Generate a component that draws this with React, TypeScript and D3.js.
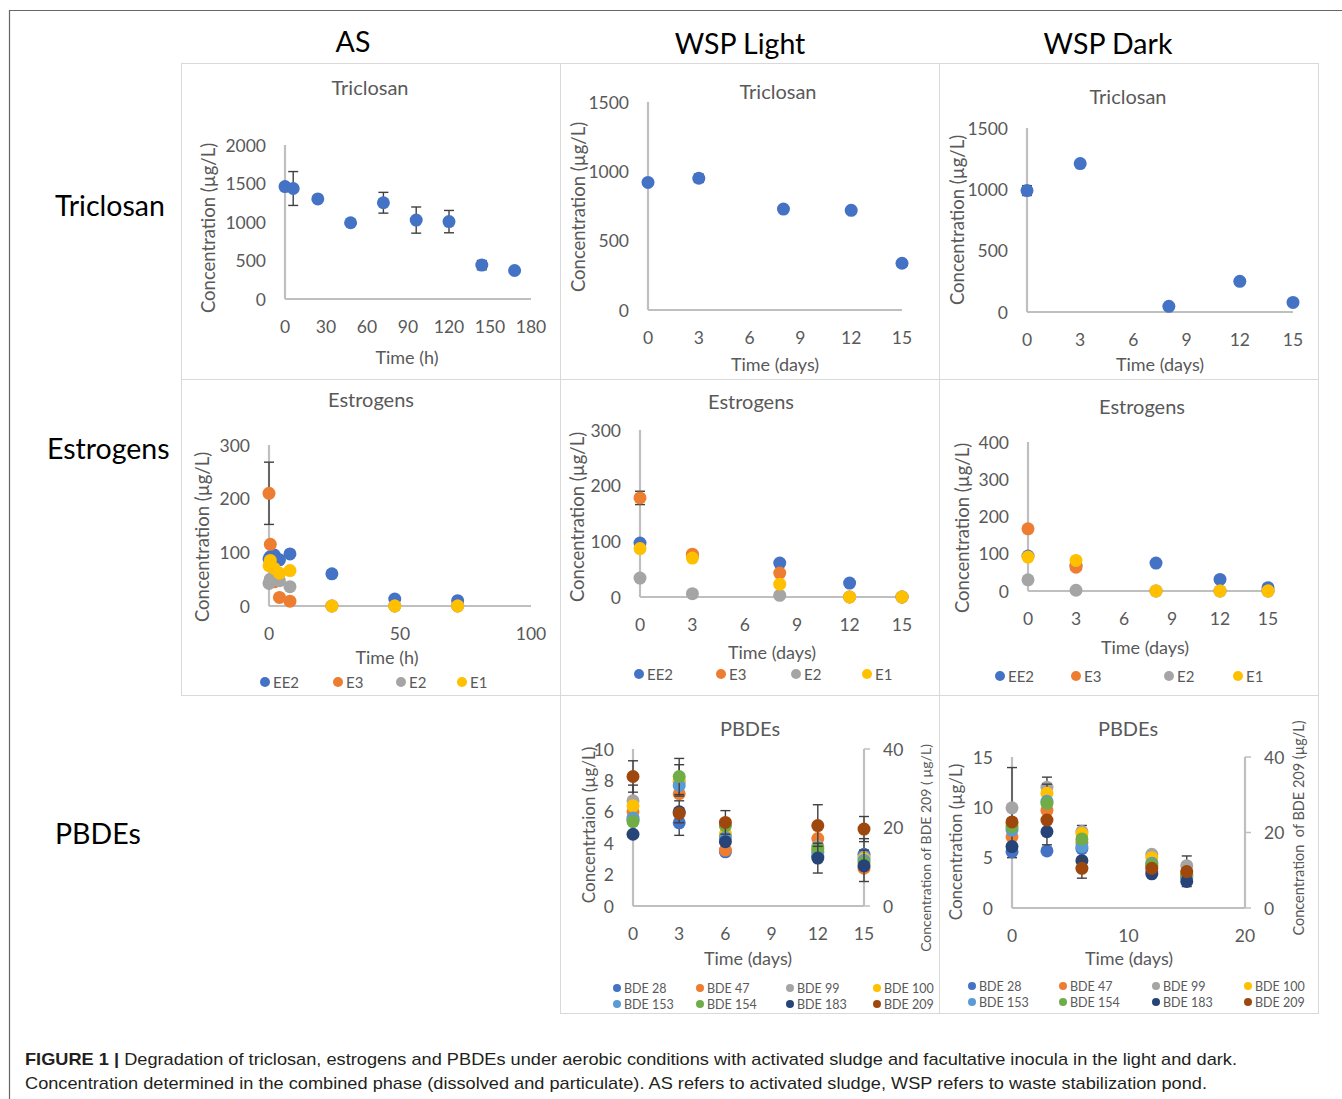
import React, { useRef, useEffect } from 'react';
import * as d3 from 'd3';

// ---------- data ----------
// Triclosan
const asTriclosanHours = [0, 6, 24, 48, 72, 96, 120, 144, 168];
const asTriclosanConc = [1460, 1435, 1300, 990, 1250, 1025, 1005, 440, 370];
const asTriclosanErr = [0, 220, 0, 0, 135, 170, 145, 60, 0];

const wspDays = [0, 3, 8, 12, 15];
const lightTriclosanConc = [920, 950, 728, 719, 337];
const lightTriclosanErr = [0, 30, 0, 0, 25];
const darkTriclosanConc = [990, 1210, 46, 250, 78];
const darkTriclosanErr = [40, 0, 0, 0, 0];

// Estrogens
const estrogenNames = ['EE2', 'E3', 'E2', 'E1'];
const estrogenColors = ['#4472C4', '#ED7D31', '#A5A5A5', '#FFC000'];

const asEstrogenHours = [0, 0.5, 2, 4, 8, 24, 48, 72];
const asEE2 = [88, 92, 95, 86, 97, 60, 13, 10];
const asE3 = [210, 115, 45, 16, 9, 0, 0, 0];
const asE3Err = [58, 0, 0, 0, 0, 0, 0, 0];
const asE2 = [42, 50, 52, 47, 36, 0, 0, 0];
const asE1 = [75, 85, 70, 61, 66, 0, 0, 0];

const lightEE2 = [97, 74, 61, 25, 0];
const lightE3 = [178, 77, 43, 0, 0];
const lightE3Err = [12, 0, 0, 0, 0];
const lightE2 = [34, 6, 3, 0, 0];
const lightE1 = [87, 70, 23, 0, 0];

const darkEE2 = [94, 70, 75, 31, 9];
const darkE3 = [167, 64, 0, 0, 0];
const darkE2 = [30, 2, 0, 0, 0];
const darkE1 = [91, 82, 0, 0, 0];

// PBDEs
const pbdeDays = [0, 3, 6, 12, 15];
const pbdeNames = ['BDE 28', 'BDE 47', 'BDE 99', 'BDE 100', 'BDE 153', 'BDE 154', 'BDE 183', 'BDE 209'];
const pbdeColors = ['#4472C4', '#ED7D31', '#A5A5A5', '#FFC000', '#5B9BD5', '#70AD47', '#264478', '#9E480E'];

const lightBDE28 = [5.5, 5.3, 3.45, 3.2, 3.29];
const lightBDE47 = [6.0, 7.15, 3.56, 4.3, 2.41];
const lightBDE99 = [6.7, 7.9, 4.5, 3.8, 3.1];
const lightBDE100 = [6.38, 8.0, 4.6, 3.5, 3.0];
const lightBDE153 = [5.6, 7.68, 4.35, 3.4, 2.9];
const lightBDE154 = [5.38, 8.25, 5.1, 3.67, 2.75];
const lightBDE183 = [4.57, 6.0, 4.1, 3.05, 2.56];
const lightBDE209 = [33, 23.6, 21.3, 20.5, 19.6];
const lightBDE28Err = [0, 0.8, 0, 0, 1.0];
const lightBDE99Err = [1.0, 0, 0, 0, 0];
const lightBDE100Err = [0, 1.0, 0, 0, 0];
const lightBDE154Err = [0, 1.15, 0, 0, 0];
const lightBDE183Err = [0, 0.7, 0, 0.95, 1.0];
const lightBDE209Err = [4, 0, 3, 5.3, 3.2];

const darkBDE28 = [5.6, 5.67, 5.9, 3.6, 3.0];
const darkBDE47 = [7.08, 9.7, 6.5, 4.2, 3.3];
const darkBDE99 = [9.95, 12.0, 7.6, 5.34, 4.2];
const darkBDE100 = [8.3, 11.4, 7.4, 5.0, 3.5];
const darkBDE153 = [7.74, 10.6, 6.1, 4.45, 3.2];
const darkBDE154 = [8.07, 10.4, 6.86, 4.3, 3.3];
const darkBDE183 = [6.1, 7.58, 4.7, 3.39, 2.63];
const darkBDE209 = [22.8, 23.3, 10.5, 10.5, 9.65];
const darkBDE28Err = [0.6, 0, 0, 0, 0];
const darkBDE99Err = [4.0, 1.0, 0.6, 0, 0.97];
const darkBDE100Err = [0, 0.9, 0, 0, 0];
const darkBDE183Err = [0, 1.3, 0, 0, 0.5];
const darkBDE209Err = [0, 0, 2.6, 0, 0];

// ticks
const asTriclosanXTicks = [0, 30, 60, 90, 120, 150, 180];
const asTriclosanYTicks = [0, 500, 1000, 1500, 2000];
const wspXTicks = [0, 3, 6, 9, 12, 15];
const wspTriclosanYTicks = [0, 500, 1000, 1500];
const asEstrogenXTicks = [0, 50, 100];
const estrogenYTicks300 = [0, 100, 200, 300];
const estrogenYTicks400 = [0, 100, 200, 300, 400];
const lightPbdeYTicks = [0, 2, 4, 6, 8, 10];
const darkPbdeYTicks = [0, 5, 10, 15];
const darkPbdeXTicks = [0, 10, 20];
const bde209Ticks = [0, 20, 40];

const FONT = "Lato, 'Open Sans', sans-serif";
const TXT = '#595959';
const AXIS = '#BFBFBF';

type Series = { name: string; color: string; x: number[]; y: number[]; err?: number[]; right?: boolean };

function drawPanel(svg: any, p: any) {
  const g = svg.append('g');
  const x = d3.scaleLinear().domain(p.xDomain).range(p.xRange);
  const y = d3.scaleLinear().domain(p.yDomain).range(p.yRange);
  const yR = p.right ? d3.scaleLinear().domain(p.right.domain).range(p.yRange) : null;

  // title
  g.append('text').attr('x', p.title[1]).attr('y', p.title[2]).attr('text-anchor', 'middle')
    .attr('dominant-baseline', 'central').attr('font-size', 20).attr('fill', TXT).text(p.title[0]);

  // axes
  g.append('line').attr('x1', p.xRange[0]).attr('x2', p.xRange[0]).attr('y1', p.yRange[0]).attr('y2', p.yRange[1])
    .attr('stroke', AXIS).attr('stroke-width', 2.2);
  g.append('line').attr('x1', p.xRange[0]).attr('x2', p.xRange[1]).attr('y1', p.yRange[0]).attr('y2', p.yRange[0])
    .attr('stroke', AXIS).attr('stroke-width', 2.2);

  g.selectAll('.yt').data(p.yTicks).enter().append('text')
    .attr('x', p.xRange[0] - 19).attr('y', (d: number) => y(d)).attr('text-anchor', 'end')
    .attr('dominant-baseline', 'central').attr('font-size', 17.5).attr('fill', TXT).text((d: number) => d);
  g.selectAll('.xt').data(p.xTicks).enter().append('text')
    .attr('x', (d: number) => x(d)).attr('y', p.yRange[0] + 27).attr('text-anchor', 'middle')
    .attr('dominant-baseline', 'central').attr('font-size', 17.5).attr('fill', TXT).text((d: number) => d);

  g.append('text').attr('x', p.xTitle[1]).attr('y', p.xTitle[2]).attr('text-anchor', 'middle')
    .attr('dominant-baseline', 'central').attr('font-size', 18).attr('fill', TXT).text(p.xTitle[0]);
  g.append('text').attr('transform', `translate(${p.yTitle[1]},${p.yTitle[2]}) rotate(-90)`)
    .attr('text-anchor', 'middle').attr('dominant-baseline', 'central')
    .attr('font-size', p.yTitle[3] || 18.5).attr('fill', TXT).style('white-space', 'pre').text(p.yTitle[0]);

  if (p.right && yR) {
    const rx = p.xRange[1];
    g.append('line').attr('x1', rx).attr('x2', rx).attr('y1', p.yRange[0]).attr('y2', p.yRange[1])
      .attr('stroke', AXIS).attr('stroke-width', 2.2);
    p.right.ticks.forEach((t: number) => {
      g.append('line').attr('x1', rx).attr('x2', rx + 6).attr('y1', yR(t)).attr('y2', yR(t))
        .attr('stroke', AXIS).attr('stroke-width', 1.5);
      g.append('text').attr('x', rx + 19).attr('y', yR(t)).attr('dominant-baseline', 'central')
        .attr('font-size', 17.5).attr('fill', TXT).text(t);
    });
    g.append('text').attr('transform', `translate(${p.right.title[1]},${p.right.title[2]}) rotate(-90)`)
      .attr('text-anchor', 'middle').attr('dominant-baseline', 'central')
      .attr('font-size', p.right.title[3]).attr('fill', TXT).style('white-space', 'pre').text(p.right.title[0]);
  }

  // series: error bars then markers
  p.series.forEach((s: Series) => {
    const ys = s.right && yR ? yR : y;
    const pts = s.x.map((xv, i) => ({ x: xv, y: s.y[i], e: s.err ? s.err[i] : 0 }));
    const eb = g.append('g').attr('stroke', '#404040').attr('stroke-width', 1.4);
    pts.filter(d => d.e > 0).forEach(d => {
      const cx = x(d.x);
      const top = ys(d.y + d.e);
      const bot = ys(Math.max(0, d.y - d.e));
      eb.append('line').attr('x1', cx).attr('x2', cx).attr('y1', top).attr('y2', bot);
      eb.append('line').attr('x1', cx - 5).attr('x2', cx + 5).attr('y1', top).attr('y2', top);
      eb.append('line').attr('x1', cx - 5).attr('x2', cx + 5).attr('y1', bot).attr('y2', bot);
    });
    g.append('g').selectAll('circle').data(pts).enter().append('circle')
      .attr('cx', d => x(d.x)).attr('cy', d => ys(d.y)).attr('r', p.r || 6.5).attr('fill', s.color);
  });

  // legend
  if (p.legend) {
    p.series.forEach((s: Series, i: number) => {
      const [lx, ly] = p.legend.pos[i];
      g.append('circle').attr('cx', lx).attr('cy', ly).attr('r', p.legend.r).attr('fill', s.color);
      g.append('text').attr('x', lx + p.legend.r + 3).attr('y', ly).attr('dominant-baseline', 'central')
        .attr('font-size', p.legend.size).attr('fill', TXT).text(s.name);
    });
  }
}

const estSeries = (xs: number[], arrs: number[][], errs: (number[] | undefined)[]) =>
  estrogenNames.map((n, i) => ({ name: n, color: estrogenColors[i], x: xs, y: arrs[i], err: errs[i] }));

const pbdeSeries = (arrs: number[][], errs: (number[] | undefined)[]) =>
  pbdeNames.map((n, i) => ({ name: n, color: pbdeColors[i], x: pbdeDays, y: arrs[i], err: errs[i], right: i === 7 }));

const grid = (xs: number[], cy: number[]) => {
  const out: number[][] = [];
  cy.forEach(yy => xs.forEach(xx => out.push([xx, yy])));
  return out;
};

export default function App() {
  const svgRef = useRef<SVGSVGElement>(null);

  useEffect(() => {
    if (!svgRef.current) return;
    const svg = d3.select(svgRef.current);
    svg.selectAll('*').remove();
    svg.attr('font-family', FONT);

    // outer frame
    svg.append('line').attr('x1', 9).attr('x2', 1342).attr('y1', 10.5).attr('y2', 10.5).attr('stroke', '#666').attr('stroke-width', 1.2);
    svg.append('line').attr('x1', 9.5).attr('x2', 9.5).attr('y1', 10).attr('y2', 1099).attr('stroke', '#666').attr('stroke-width', 1.2);

    // panel borders
    const boxes = [
      [181, 63, 560, 379], [560, 63, 939, 379], [939, 63, 1318, 379],
      [181, 379, 560, 695], [560, 379, 939, 695], [939, 379, 1318, 695],
      [560, 695, 939, 1013], [939, 695, 1318, 1013],
    ];
    boxes.forEach(b => svg.append('rect').attr('x', b[0] + 0.5).attr('y', b[1] + 0.5)
      .attr('width', b[2] - b[0]).attr('height', b[3] - b[1]).attr('fill', 'none').attr('stroke', '#D9D9D9'));

    // headers
    [['AS', 353, 41], ['WSP Light', 740, 43], ['WSP Dark', 1108, 43]].forEach(h =>
      svg.append('text').attr('x', h[1]).attr('y', h[2]).attr('text-anchor', 'middle').attr('dominant-baseline', 'central')
        .attr('font-size', 28.5).attr('fill', '#000').text(h[0] as string));
    [['Triclosan', 55, 205], ['Estrogens', 47, 448], ['PBDEs', 55, 833]].forEach(h =>
      svg.append('text').attr('x', h[1]).attr('y', h[2]).attr('dominant-baseline', 'central')
        .attr('font-size', 28.5).attr('fill', '#000').text(h[0] as string));

    const blue = '#4472C4';
    // triclosan row
    drawPanel(svg, {
      title: ['Triclosan', 370, 87], xDomain: [0, 180], xRange: [285, 531], yDomain: [0, 2000], yRange: [299, 145],
      xTicks: asTriclosanXTicks, yTicks: asTriclosanYTicks, xTitle: ['Time (h)', 407, 357],
      yTitle: ['Concentration (µg/L)', 208, 228],
      series: [{ name: 'Triclosan', color: blue, x: asTriclosanHours, y: asTriclosanConc, err: asTriclosanErr }],
    });
    drawPanel(svg, {
      title: ['Triclosan', 778, 91], xDomain: [0, 15], xRange: [648, 902], yDomain: [0, 1500], yRange: [310, 102],
      xTicks: wspXTicks, yTicks: wspTriclosanYTicks, xTitle: ['Time (days)', 775, 364],
      yTitle: ['Concentration (µg/L)', 578, 207],
      series: [{ name: 'Triclosan', color: blue, x: wspDays, y: lightTriclosanConc, err: lightTriclosanErr }],
    });
    drawPanel(svg, {
      title: ['Triclosan', 1128, 96], xDomain: [0, 15], xRange: [1027, 1293], yDomain: [0, 1500], yRange: [312, 128],
      xTicks: wspXTicks, yTicks: wspTriclosanYTicks, xTitle: ['Time (days)', 1160, 364],
      yTitle: ['Concentration (µg/L)', 957, 220],
      series: [{ name: 'Triclosan', color: blue, x: wspDays, y: darkTriclosanConc, err: darkTriclosanErr }],
    });

    // estrogens row
    drawPanel(svg, {
      title: ['Estrogens', 371, 399], xDomain: [0, 100], xRange: [269, 531], yDomain: [0, 300], yRange: [606, 445],
      xTicks: asEstrogenXTicks, yTicks: estrogenYTicks300, xTitle: ['Time (h)', 387, 657],
      yTitle: ['Concentration (µg/L)', 202, 537],
      series: estSeries(asEstrogenHours, [asEE2, asE3, asE2, asE1], [undefined, asE3Err, undefined, undefined]),
      legend: { pos: [[265, 682], [338, 682], [401, 682], [462, 682]], r: 5, size: 15 },
    });
    drawPanel(svg, {
      title: ['Estrogens', 751, 401], xDomain: [0, 15], xRange: [640, 902], yDomain: [0, 300], yRange: [597, 430],
      xTicks: wspXTicks, yTicks: estrogenYTicks300, xTitle: ['Time (days)', 772, 652],
      yTitle: ['Concentration (µg/L)', 577, 517],
      series: estSeries(wspDays, [lightEE2, lightE3, lightE2, lightE1], [undefined, lightE3Err, undefined, undefined]),
      legend: { pos: [[639, 674], [721, 674], [796, 674], [867, 674]], r: 5, size: 15 },
    });
    drawPanel(svg, {
      title: ['Estrogens', 1142, 406], xDomain: [0, 15], xRange: [1028, 1268], yDomain: [0, 400], yRange: [591, 442],
      xTicks: wspXTicks, yTicks: estrogenYTicks400, xTitle: ['Time (days)', 1145, 647],
      yTitle: ['Concentration (µg/L)', 962, 528],
      series: estSeries(wspDays, [darkEE2, darkE3, darkE2, darkE1], [undefined, undefined, undefined, undefined]),
      legend: { pos: [[1000, 676], [1076, 676], [1169, 676], [1238, 676]], r: 5, size: 15 },
    });

    // PBDE row
    drawPanel(svg, {
      title: ['PBDEs', 750, 728], xDomain: [0, 15], xRange: [633, 864], yDomain: [0, 10], yRange: [906, 749],
      xTicks: wspXTicks, yTicks: lightPbdeYTicks, xTitle: ['Time (days)', 748, 958],
      yTitle: ['Concentrtaion (µg/L)', 588, 825, 17],
      right: { domain: [0, 40], ticks: bde209Ticks, title: ['Concentration of BDE 209 ( µg/L)', 925, 848, 14] },
      series: pbdeSeries(
        [lightBDE28, lightBDE47, lightBDE99, lightBDE100, lightBDE153, lightBDE154, lightBDE183, lightBDE209],
        [lightBDE28Err, undefined, lightBDE99Err, lightBDE100Err, undefined, lightBDE154Err, lightBDE183Err, lightBDE209Err]),
      legend: { pos: grid([617, 700, 790, 877], [988, 1004]), r: 4, size: 12.5 },
    });
    drawPanel(svg, {
      title: ['PBDEs', 1128, 728], xDomain: [0, 20], xRange: [1012, 1245], yDomain: [0, 15], yRange: [908, 757],
      xTicks: darkPbdeXTicks, yTicks: darkPbdeYTicks, xTitle: ['Time (days)', 1129, 958],
      yTitle: ['Concentration (µg/L)', 955, 842, 17],
      right: { domain: [0, 40], ticks: bde209Ticks, title: ['Concentration  of BDE 209 (µg/L)', 1298, 828, 14.5] },
      series: pbdeSeries(
        [darkBDE28, darkBDE47, darkBDE99, darkBDE100, darkBDE153, darkBDE154, darkBDE183, darkBDE209],
        [darkBDE28Err, undefined, darkBDE99Err, darkBDE100Err, undefined, undefined, darkBDE183Err, darkBDE209Err]),
      legend: { pos: grid([972, 1063, 1156, 1248], [986, 1002]), r: 4, size: 12.5 },
    });

    // caption
    const cap1 = svg.append('text').attr('x', 25).attr('y', 1065).attr('font-family', "'Liberation Sans', Arial, sans-serif")
      .attr('font-size', 17).attr('fill', '#231F20').attr('textLength', 1212).attr('lengthAdjust', 'spacingAndGlyphs');
    cap1.append('tspan').attr('font-weight', 'bold').text('FIGURE 1 | ');
    cap1.append('tspan').text('Degradation of triclosan, estrogens and PBDEs under aerobic conditions with activated sludge and facultative inocula in the light and dark.');
    svg.append('text').attr('x', 25).attr('y', 1089).attr('font-family', "'Liberation Sans', Arial, sans-serif")
      .attr('font-size', 17).attr('fill', '#231F20').attr('textLength', 1182).attr('lengthAdjust', 'spacingAndGlyphs')
      .text('Concentration determined in the combined phase (dissolved and particulate). AS refers to activated sludge, WSP refers to waste stabilization pond.');
  }, []);

  return (
    <div style={{ position: 'absolute', left: 0, top: 0 }}>
      <svg ref={svgRef} width={1342} height={1099} style={{ display: 'block', background: '#fff' }} />
    </div>
  );
}
